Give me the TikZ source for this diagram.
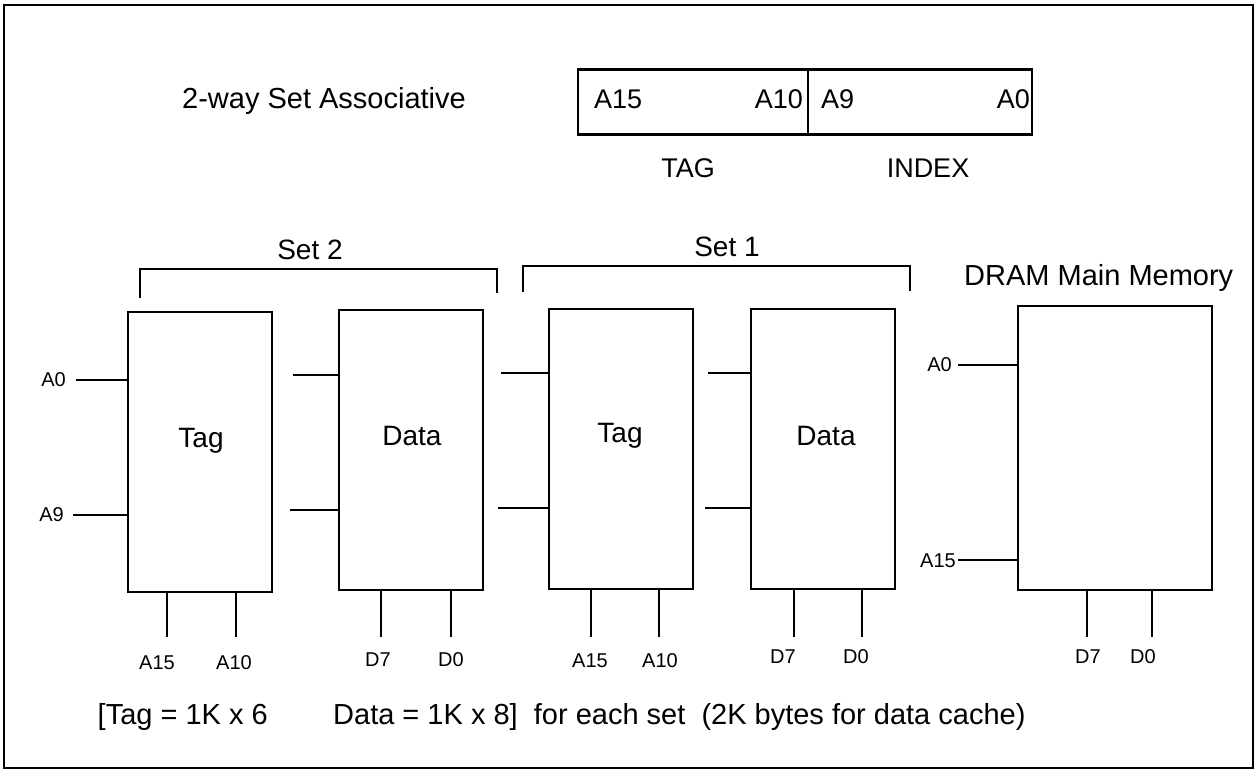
\documentclass[tikz,border=0pt]{standalone}
\usepackage{fontspec}
\setmainfont{Liberation Sans}
\begin{document}
\begin{tikzpicture}[x=1pt,y=-1pt,
  blk/.style={draw,line width=2.6pt,minimum width=144pt,minimum height=280pt,inner sep=0pt},
  blktxt/.style={inner sep=0pt,font=\fontsize{28}{30}\selectfont},
  lbl/.style={inner sep=0pt,font=\fontsize{20}{22}\selectfont},
  big/.style={inner sep=0pt,font=\fontsize{27}{30}\selectfont},
  wire/.style={line width=2.4pt},
  brk/.style={line width=2.4pt}]
\useasboundingbox (0,0) rectangle (1259,773);
\fill[white] (0,0) rectangle (1259,773);
\draw[line width=2pt] (4,5) rectangle (1253,768);

% title and address
\node[big,font=\fontsize{29}{32}\selectfont] (title) at (324,101) {2-way Set Associative};
\node[draw,line width=2.2pt,minimum width=454pt,minimum height=65pt,inner sep=0pt] (addr) at (805,102) {};
\coordinate (divt) at (808,70);
\coordinate (divb) at (808,134);
\draw[line width=2pt] (divt) -- (divb);
\node[big,anchor=west] (a15) at (594,99) {A15};
\node[big,anchor=east] (a10) at (803,99) {A10};
\node[big,anchor=west] (a9) at (821,99) {A9};
\node[big,anchor=east] (a0) at (1030,99) {A0};
\node[big] (tag) at (688,168) {TAG};
\node[big] (index) at (928,168) {INDEX};

% brackets
\node[big,font=\fontsize{28}{30}\selectfont] (set2) at (310,250) {Set 2};
\coordinate (b2l) at (140,298);
\coordinate (b2r) at (497,293);
\draw[brk] (b2l) |- (318,269) -| (b2r);
\node[big,font=\fontsize{28}{30}\selectfont] (set1) at (727,247) {Set 1};
\coordinate (b1l) at (523,292);
\coordinate (b1r) at (910,291);
\draw[brk] (b1l) |- (700,266) -| (b1r);
\node[big,anchor=west,font=\fontsize{29}{32}\selectfont] (dramlbl) at (964,278) {DRAM Main Memory};

% blocks
\node[blk] (tag2) at (200,452) {};
\node[blk] (data2) at (411,450) {};
\node[blk] (tag1) at (621,449) {};
\node[blk] (data1) at (823,449) {};
\node[blk,minimum width=194pt,minimum height=284pt] (dram) at (1115,448) {};
\node[blktxt] (tag2t) at (201,441) {Tag};
\node[blktxt] (data2t) at (412,436) {Data};
\node[blktxt] (tag1t) at (620,436) {Tag};
\node[blktxt] (data1t) at (826,436) {Data};

% Tag2 left inputs
\node[lbl,anchor=east] (t2a0) at (66,380) {A0};
\node[lbl,anchor=east] (t2a9) at (64,515) {A9};
\draw[wire] (t2a0.east) ++(10,0) coordinate (t2s1) (t2s1) -- (tag2.west |- t2s1);
\draw[wire] (t2a9.east) ++(9,0) coordinate (t2s2) (t2s2) -- (tag2.west |- t2s2);
% Data2 inputs
\coordinate (d2i1) at (293,375);
\coordinate (d2i2) at (290,510);
\draw[wire] (d2i1) -- (data2.west |- d2i1);
\draw[wire] (d2i2) -- (data2.west |- d2i2);
% Tag1 inputs
\coordinate (t1i1) at (501,373);
\coordinate (t1i2) at (498,508);
\draw[wire] (t1i1) -- (tag1.west |- t1i1);
\draw[wire] (t1i2) -- (tag1.west |- t1i2);
% Data1 inputs
\coordinate (d1i1) at (708,373);
\coordinate (d1i2) at (705,508);
\draw[wire] (d1i1) -- (data1.west |- d1i1);
\draw[wire] (d1i2) -- (data1.west |- d1i2);
% DRAM inputs
\node[lbl,anchor=east] (ma0) at (952,365) {A0};
\node[lbl,anchor=east] (ma15) at (956,561) {A15};
\coordinate (mi1) at (958,365);
\coordinate (mi2) at (958,560);
\draw[wire] (mi1) -- (dram.west |- mi1);
\draw[wire] (mi2) -- (dram.west |- mi2);

% bottom outputs
\foreach \b/\xa/\xb/\n in {tag2/167/236/p, data2/381/451/q, tag1/591/659/r, data1/794/862/s, dram/1087/1152/t}{
  \coordinate (\n1) at (\xa,637);
  \coordinate (\n2) at (\xb,637);
  \draw[wire] (\b.south -| \n1) -- (\n1);
  \draw[wire] (\b.south -| \n2) -- (\n2);
}
\node[lbl] (l1) at (157,663) {A15};
\node[lbl] (l2) at (234,663) {A10};
\node[lbl] (l3) at (378,660) {D7};
\node[lbl] (l4) at (451,660) {D0};
\node[lbl] (l5) at (590,661) {A15};
\node[lbl] (l6) at (660,661) {A10};
\node[lbl] (l7) at (783,657) {D7};
\node[lbl] (l8) at (856,657) {D0};
\node[lbl] (l9) at (1088,657) {D7};
\node[lbl] (l10) at (1143,657) {D0};

% footer
\node[big,anchor=east,font=\fontsize{29}{31}\selectfont] (f1) at (268,717) {[Tag = 1K x 6};
\node[big,anchor=west,font=\fontsize{29}{31}\selectfont] (f2) at (333,717) {Data = 1K x 8]\ \ for each set\ \ (2K bytes for data cache)};
\end{tikzpicture}
\end{document}
